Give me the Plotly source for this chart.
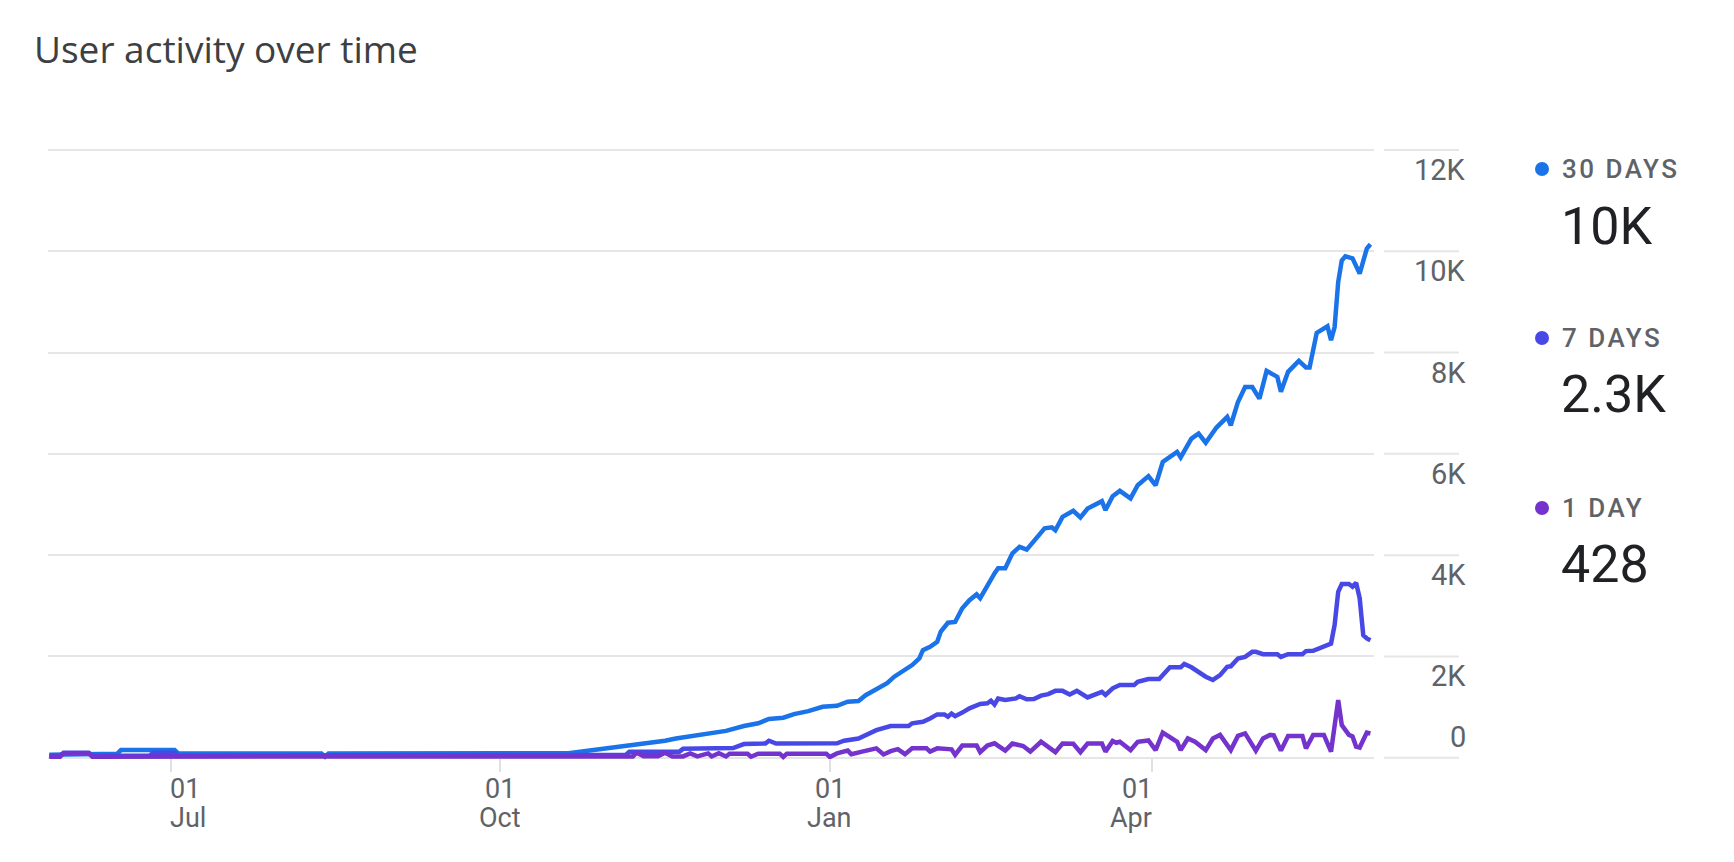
import plotly.graph_objects as go


# Active users (30 / 7 / 1 day windows).
dates_30d = [
    "2022-05-28", "2022-06-16", "2022-06-17", "2022-07-02", "2022-07-03",
    "2022-08-12", "2022-08-13", "2022-08-14", "2022-10-20", "2022-10-27",
    "2022-11-01", "2022-11-06", "2022-11-11", "2022-11-16", "2022-11-19",
    "2022-11-24", "2022-11-29", "2022-12-03", "2022-12-08", "2022-12-12",
    "2022-12-15", "2022-12-19", "2022-12-22", "2022-12-26", "2022-12-30",
    "2023-01-03", "2023-01-06", "2023-01-09", "2023-01-11", "2023-01-14",
    "2023-01-17", "2023-01-19", "2023-01-21", "2023-01-24", "2023-01-26",
    "2023-01-27", "2023-01-29", "2023-01-31", "2023-02-01", "2023-02-03",
    "2023-02-05", "2023-02-07", "2023-02-09", "2023-02-11", "2023-02-12",
    "2023-02-14", "2023-02-16", "2023-02-17", "2023-02-19", "2023-02-21",
    "2023-02-23", "2023-02-25", "2023-03-02", "2023-03-04", "2023-03-05",
    "2023-03-07", "2023-03-10", "2023-03-12", "2023-03-14", "2023-03-18",
    "2023-03-19", "2023-03-21", "2023-03-23", "2023-03-26", "2023-03-28",
    "2023-03-31", "2023-04-02", "2023-04-04", "2023-04-08", "2023-04-09",
    "2023-04-12", "2023-04-14", "2023-04-16", "2023-04-19", "2023-04-22",
    "2023-04-23", "2023-04-25", "2023-04-27", "2023-04-29", "2023-05-01",
    "2023-05-03", "2023-05-06", "2023-05-07", "2023-05-09", "2023-05-12",
    "2023-05-14", "2023-05-15", "2023-05-17", "2023-05-20", "2023-05-21",
    "2023-05-22", "2023-05-23", "2023-05-24", "2023-05-25", "2023-05-27",
    "2023-05-29", "2023-05-31", "2023-06-01",
]
users_30d = [
    60, 80, 150, 150, 85,
    85, 20, 85, 90, 150,
    200, 230, 285, 335, 380,
    430, 485, 530, 625, 680,
    765, 790, 860, 920, 1005,
    1025, 1105, 1120, 1235, 1350,
    1470, 1600, 1700, 1830, 1960,
    2125, 2190, 2290, 2490, 2665,
    2680, 2950, 3110, 3225, 3150,
    3410, 3640, 3740, 3740, 4035,
    4165, 4110, 4530, 4550, 4490,
    4755, 4875, 4745, 4920, 5065,
    4890, 5165, 5270, 5120, 5380,
    5560, 5380, 5840, 6040, 5930,
    6300, 6400, 6220, 6520, 6730,
    6565, 7025, 7320, 7320, 7090,
    7640, 7520, 7225, 7620, 7835,
    7705, 7705, 8390, 8520, 8245,
    8505, 9395, 9820, 9900, 9860,
    9560, 10055, 10140,
]

dates_7d = [
    "2022-05-28", "2022-05-31", "2022-06-01", "2022-06-08", "2022-06-09",
    "2022-06-25", "2022-06-26", "2022-07-02", "2022-07-03", "2022-11-05",
    "2022-11-06", "2022-11-20", "2022-11-21", "2022-12-05", "2022-12-08",
    "2022-12-14", "2022-12-15", "2022-12-17", "2023-01-03", "2023-01-05",
    "2023-01-09", "2023-01-12", "2023-01-14", "2023-01-18", "2023-01-23",
    "2023-01-24", "2023-01-27", "2023-01-29", "2023-01-31", "2023-02-02",
    "2023-02-03", "2023-02-04", "2023-02-05", "2023-02-07", "2023-02-09",
    "2023-02-12", "2023-02-14", "2023-02-15", "2023-02-16", "2023-02-17",
    "2023-02-19", "2023-02-22", "2023-02-23", "2023-02-25", "2023-02-27",
    "2023-03-01", "2023-03-03", "2023-03-05", "2023-03-07", "2023-03-09",
    "2023-03-11", "2023-03-14", "2023-03-16", "2023-03-18", "2023-03-19",
    "2023-03-21", "2023-03-23", "2023-03-27", "2023-03-28", "2023-03-31",
    "2023-04-03", "2023-04-05", "2023-04-06", "2023-04-09", "2023-04-10",
    "2023-04-12", "2023-04-15", "2023-04-16", "2023-04-18", "2023-04-20",
    "2023-04-22", "2023-04-23", "2023-04-25", "2023-04-27", "2023-04-29",
    "2023-04-30", "2023-05-02", "2023-05-06", "2023-05-07", "2023-05-09",
    "2023-05-13", "2023-05-14", "2023-05-16", "2023-05-18", "2023-05-20",
    "2023-05-21", "2023-05-22", "2023-05-23", "2023-05-24", "2023-05-26",
    "2023-05-27", "2023-05-28", "2023-05-29", "2023-05-30", "2023-05-31",
    "2023-06-01",
]
users_7d = [
    40, 40, 100, 100, 40,
    40, 100, 100, 40, 55,
    120, 120, 175, 190, 270,
    280, 335, 280, 285, 335,
    380, 480, 545, 625, 625,
    680, 710, 775, 855, 855,
    810, 870, 820, 890, 975,
    1060, 1075, 1125, 1050, 1170,
    1140, 1170, 1215, 1155, 1160,
    1225, 1255, 1320, 1320, 1250,
    1320, 1190, 1255, 1300, 1240,
    1370, 1435, 1435, 1500, 1555,
    1555, 1730, 1785, 1785, 1850,
    1785, 1630, 1600, 1535, 1630,
    1795, 1805, 1960, 1990, 2090,
    2090, 2045, 2045, 1990, 2045,
    2045, 2105, 2110, 2160, 2225,
    2255, 2620, 3275, 3430, 3430,
    3375, 3455, 3150, 2420, 2355,
    2320,
]

dates_1d = [
    "2022-05-28", "2022-05-31", "2022-06-01", "2022-06-08", "2022-06-09",
    "2022-11-07", "2022-11-08", "2022-11-10", "2022-11-14", "2022-11-16",
    "2022-11-18", "2022-11-21", "2022-11-23", "2022-11-25", "2022-11-28",
    "2022-11-29", "2022-12-01", "2022-12-03", "2022-12-04", "2022-12-09",
    "2022-12-10", "2022-12-12", "2022-12-18", "2022-12-19", "2022-12-20",
    "2022-12-31", "2023-01-01", "2023-01-03", "2023-01-06", "2023-01-07",
    "2023-01-10", "2023-01-14", "2023-01-16", "2023-01-18", "2023-01-20",
    "2023-01-22", "2023-01-24", "2023-01-28", "2023-01-29", "2023-01-31",
    "2023-02-04", "2023-02-05", "2023-02-07", "2023-02-11", "2023-02-12",
    "2023-02-14", "2023-02-16", "2023-02-19", "2023-02-21", "2023-02-22",
    "2023-02-24", "2023-02-26", "2023-03-01", "2023-03-05", "2023-03-07",
    "2023-03-10", "2023-03-12", "2023-03-14", "2023-03-18", "2023-03-19",
    "2023-03-21", "2023-03-22", "2023-03-23", "2023-03-26", "2023-03-28",
    "2023-03-31", "2023-04-02", "2023-04-04", "2023-04-08", "2023-04-09",
    "2023-04-11", "2023-04-13", "2023-04-16", "2023-04-18", "2023-04-20",
    "2023-04-23", "2023-04-25", "2023-04-27", "2023-04-30", "2023-05-02",
    "2023-05-04", "2023-05-05", "2023-05-07", "2023-05-09", "2023-05-13",
    "2023-05-14", "2023-05-16", "2023-05-19", "2023-05-21", "2023-05-23",
    "2023-05-24", "2023-05-26", "2023-05-27", "2023-05-28", "2023-05-29",
    "2023-05-31", "2023-06-01",
]
users_1d = [
    20, 20, 90, 90, 20,
    25, 100, 30, 30, 100,
    25, 25, 85, 25, 85,
    25, 90, 25, 80, 80,
    20, 80, 80, 15, 80,
    80, 15, 85, 140, 70,
    120, 185, 65, 130, 170,
    70, 185, 185, 120, 185,
    165, 55, 240, 240, 110,
    240, 285, 140, 280, 260,
    230, 120, 315, 110, 280,
    275, 110, 280, 280, 120,
    330, 295, 315, 150, 315,
    340, 150, 495, 315, 150,
    380, 315, 150, 380, 450,
    150, 430, 480, 140, 380,
    450, 440, 140, 430, 430,
    185, 450, 450, 120, 1140,
    645, 450, 420, 220, 200,
    495, 480,
]

y_ticks = [0, 2000, 4000, 6000, 8000, 10000, 12000]
y_tick_labels = ["0", "2K", "4K", "6K", "8K", "10K", "12K"]
x_ticks = ["2022-07-01", "2022-10-01", "2023-01-01", "2023-04-01"]
x_tick_days = ["01", "01", "01", "01"]
x_tick_months = ["Jul", "Oct", "Jan", "Apr"]

series_names = ["30 DAYS", "7 DAYS", "1 DAY"]
series_totals = ["10K", "2.3K", "428"]
colors = ["#1a73e8", "#4848e6", "#7433cc"]

# Page geometry in pixels. The page body adds an 8px offset, so positions
# measured on the screenshot are shifted back by OFF.
W, H = 1734, 862
OFF = 8
L, R, T, B = 48 - OFF, W - (1374 - OFF), 148 - OFF, H - (765 - OFF)


def px_x(px):
    return (px - OFF - L) / (W - L - R)


def px_y(py):
    return (H - B - (py - OFF)) / (H - T - B)


grid_color = "#e6e6e6"
label_color = "#5f6368"

fig = go.Figure()
for dates, users, name, color in zip([dates_30d, dates_7d, dates_1d],
                                     [users_30d, users_7d, users_1d],
                                     series_names, colors):
    fig.add_trace(go.Scatter(x=dates, y=users, mode="lines", name=name,
                             line=dict(color=color, width=4.5)))

annotations = []
shapes = []

# Y tick labels sit just under their grid line (the 0 label sits above it).
for val, lab in zip(y_ticks, y_tick_labels):
    annotations.append(dict(
        x=px_x(1468), xref="paper", xanchor="right",
        y=val, yref="y", yanchor="middle",
        yshift=21 if val == 0 else -20,
        text=lab, showarrow=False,
        font=dict(family="Roboto", size=29, color=label_color)))
    shapes.append(dict(
        type="line", xref="paper", yref="y",
        x0=px_x(1384), x1=px_x(1459), y0=val, y1=val,
        line=dict(color=grid_color, width=2)))

# X tick labels: day on the first line, month under it.
x_anchor = ["left", "center", "center", "right"]
for xv, day, mon, anc in zip(x_ticks, x_tick_days, x_tick_months, x_anchor):
    shift = {"left": -3, "center": 0, "right": 2}[anc]
    annotations.append(dict(
        x=xv, xref="x", xanchor=anc, xshift=shift,
        y=px_y(789), yref="paper", yanchor="middle",
        text=day, showarrow=False,
        font=dict(family="Roboto", size=27, color=label_color)))
    annotations.append(dict(
        x=xv, xref="x", xanchor=anc, xshift=shift,
        y=px_y(818), yref="paper", yanchor="middle",
        text=mon, showarrow=False,
        font=dict(family="Roboto", size=27, color=label_color)))

# Right-hand summary legend.
dot_y = [169, 338, 508]
total_y = [226, 394, 564]
for name, total, color, dy, ty in zip(series_names, series_totals, colors,
                                      dot_y, total_y):
    shapes.append(dict(
        type="circle", xref="paper", yref="paper",
        xsizemode="pixel", ysizemode="pixel",
        xanchor=px_x(1542), yanchor=px_y(dy),
        x0=-7, x1=7, y0=-7, y1=7,
        fillcolor=color, line=dict(width=0)))
    annotations.append(dict(
        x=px_x(1560), xref="paper", xanchor="left",
        y=px_y(dy), yref="paper", yanchor="middle",
        text=f"<span style='letter-spacing:2.5px'>{name}</span>",
        showarrow=False,
        font=dict(family="Roboto", size=26, weight=500, color=label_color)))
    annotations.append(dict(
        x=px_x(1559), xref="paper", xanchor="left",
        y=px_y(ty), yref="paper", yanchor="middle",
        text=total, showarrow=False,
        font=dict(family="Roboto", size=52, color="#202124")))

annotations.append(dict(
    x=px_x(32), xref="paper", xanchor="left",
    y=px_y(49), yref="paper", yanchor="middle",
    text="User activity over time", showarrow=False,
    font=dict(family="Open Sans", size=37, color="#3c4043")))

fig.update_layout(
    width=W, height=H,
    margin=dict(l=L, r=R, t=T, b=B),
    paper_bgcolor="white", plot_bgcolor="white",
    showlegend=False,
    annotations=annotations,
    shapes=shapes,
    xaxis=dict(
        range=["2022-05-27 15:00", "2023-06-02 00:00"],
        anchor="free", position=px_y(757.7),
        tickvals=x_ticks, showticklabels=False,
        ticks="outside", ticklen=13, tickwidth=2, tickcolor="#e0e0e0",
        showgrid=False, showline=False, zeroline=False, automargin=False,
    ),
    yaxis=dict(
        range=[-144, 12040],
        tickvals=y_ticks, showticklabels=False,
        showgrid=True, gridcolor=grid_color, gridwidth=2,
        zeroline=False, showline=False, ticks="", automargin=False,
    ),
)

fig.write_html("out.html")
